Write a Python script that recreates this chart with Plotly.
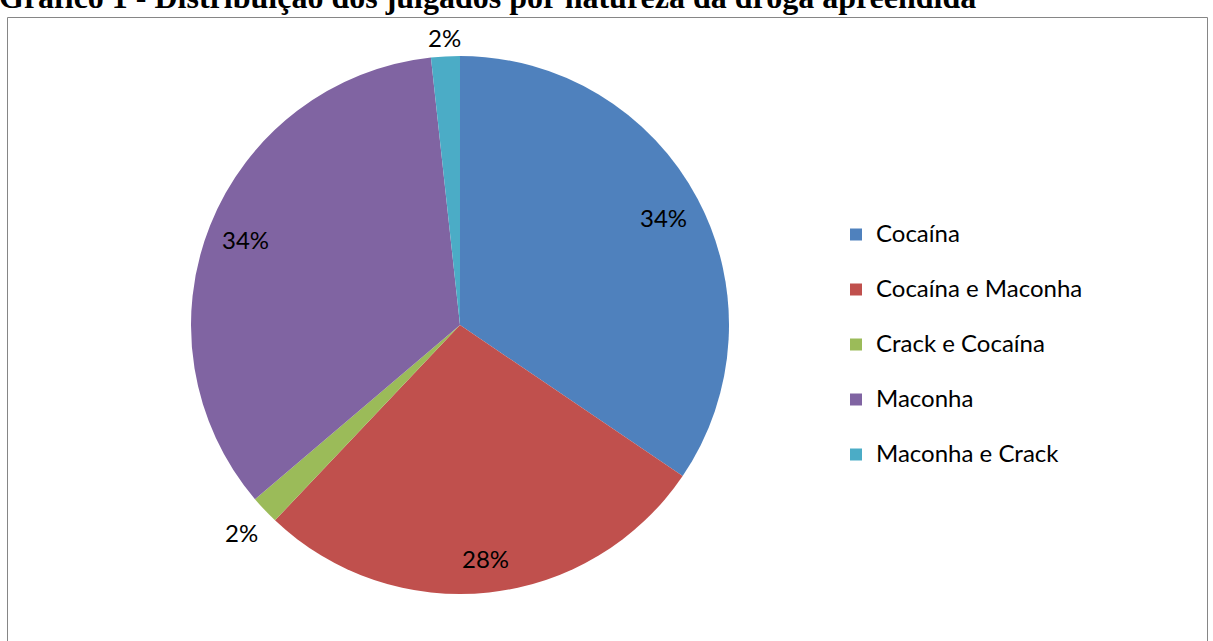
import math
import plotly.graph_objects as go

# ---- data ----
categories = ["Cocaína", "Cocaína e Maconha", "Crack e Cocaína", "Maconha", "Maconha e Crack"]
counts = [20, 16, 1, 20, 1]
colors = ["#4F81BD", "#C0504D", "#9BBB59", "#8064A2", "#4BACC6"]
label_radius = [0.855, 0.875, 1.12, 0.86, 1.07]  # relative label distance from centre
title_text = "Gráfico 1 - Distribuição dos julgados por natureza da droga apreendida"

W, H = 1213, 641
cx, cy, R = 460, 325, 269  # pixel centre / radius of the pie

dom_x = [(cx - R) / W, (cx + R) / W]
dom_y = [(H - cy - R) / H, (H - cy + R) / H]

legend_labels = [f"<span style='font-size:24px'>{c}</span><br> " for c in categories]

fig = go.Figure(go.Pie(
    labels=legend_labels,
    values=counts,
    sort=False,
    direction="clockwise",
    rotation=0,
    marker=dict(colors=colors, line=dict(width=0)),
    textinfo="none",
    hoverinfo="none",
    domain=dict(x=dom_x, y=dom_y),
))

# percentage labels placed from the data angles
total = sum(counts)
cum = 0
annotations = []
for v, rf in zip(counts, label_radius):
    mid = (cum + v / 2) / total * 2 * math.pi
    cum += v
    px = cx + rf * R * math.sin(mid)
    py = cy - rf * R * math.cos(mid)
    annotations.append(dict(
        x=px / W, y=1 - py / H, xref="paper", yref="paper",
        text=f"{round(100 * v / total)}%", showarrow=False,
        font=dict(family="Lato", size=24, color="#000000"),
        xanchor="center", yanchor="middle",
    ))

annotations.append(dict(
    x=-0.002, y=1 - 16 / H, xref="paper", yref="paper", xanchor="left", yanchor="bottom",
    text=f"<b>{title_text}</b>", showarrow=False,
    font=dict(family="Liberation Serif", size=32, color="#000000"),
    borderpad=0,
))

fig.update_layout(
    width=W, height=H,
    margin=dict(l=0, r=0, t=0, b=0),
    paper_bgcolor="white",
    plot_bgcolor="white",
    showlegend=True,
    legend=dict(
        x=836 / W, y=1 - 215 / H, xanchor="left", yanchor="top",
        font=dict(family="Lato", size=20, color="#000000"),
        valign="top",
        bgcolor="rgba(0,0,0,0)",
    ),
    annotations=annotations,
    shapes=[dict(
        type="rect", xref="paper", yref="paper",
        x0=7.5 / W, x1=1207.5 / W, y0=-0.05, y1=1 - 17.5 / H,
        line=dict(color="#868686", width=1), fillcolor="rgba(0,0,0,0)",
        layer="below",
    )],
)

fig.write_html("out.html")
